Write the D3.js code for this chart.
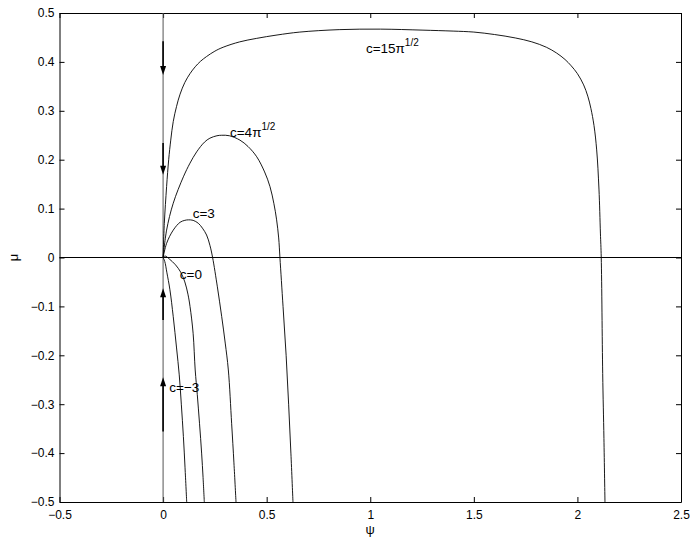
<!DOCTYPE html>
<html>
<head>
<meta charset="utf-8">
<script src="https://cdn.jsdelivr.net/npm/d3@7"></script>
<style>
  body { margin: 0; background: #fff; }
  text { font-family: "Liberation Sans", Arial, Helvetica, sans-serif; }
</style>
</head>
<body>
<div id="chart"></div>
<script>
// curves: [psi, mu]
var curve15 = [[0,0],[0.006,0.07],[0.017,0.145],[0.027,0.2],[0.037,0.24],[0.049,0.278],[0.065,0.309],[0.082,0.334],[0.105,0.358],[0.13,0.376],[0.155,0.39],[0.18,0.401],[0.21,0.411],[0.25,0.422],[0.29,0.43],[0.37,0.441],[0.45,0.448],[0.55,0.455],[0.66,0.461],[0.85,0.466],[1.05,0.467],[1.25,0.465],[1.4,0.463],[1.5,0.461],[1.6,0.456],[1.7,0.449],[1.78,0.441],[1.85,0.43],[1.9,0.418],[1.94,0.405],[1.97,0.392],[2.0,0.376],[2.03,0.353],[2.05,0.33],[2.065,0.305],[2.08,0.27],[2.093,0.22],[2.104,0.14],[2.111,0.05],[2.115,0],[2.122,-0.237],[2.128,-0.37],[2.133,-0.5]];
var curve4 = [[0,0],[0.017,0.056],[0.049,0.111],[0.098,0.165],[0.13,0.193],[0.162,0.216],[0.2,0.236],[0.226,0.244],[0.26,0.249],[0.283,0.25],[0.32,0.249],[0.371,0.24],[0.41,0.227],[0.452,0.206],[0.49,0.175],[0.516,0.145],[0.535,0.11],[0.548,0.077],[0.558,0.04],[0.564,0],[0.579,-0.1],[0.594,-0.2],[0.606,-0.3],[0.617,-0.4],[0.627,-0.5]];
var curve3 = [[0,0],[0.017,0.029],[0.049,0.056],[0.082,0.072],[0.105,0.076],[0.122,0.077],[0.145,0.076],[0.17,0.07],[0.19,0.06],[0.21,0.046],[0.226,0.025],[0.239,0],[0.262,-0.06],[0.283,-0.121],[0.3,-0.175],[0.315,-0.23],[0.331,-0.34],[0.342,-0.42],[0.352,-0.5]];
var curve0 = [[0,0],[0.01,0.003],[0.03,-0.003],[0.06,-0.015],[0.085,-0.03],[0.105,-0.05],[0.12,-0.075],[0.13,-0.1],[0.145,-0.155],[0.155,-0.23],[0.165,-0.28],[0.176,-0.34],[0.186,-0.4],[0.193,-0.45],[0.199,-0.5]];
var curveM3 = [[0,0],[0.008,-0.008],[0.018,-0.03],[0.033,-0.066],[0.049,-0.121],[0.065,-0.185],[0.078,-0.24],[0.088,-0.3],[0.098,-0.366],[0.106,-0.43],[0.114,-0.5]];

// arrows on the psi=0 axis: from mu -> to mu
var arrowFrom = [0.442, 0.234, -0.128, -0.356];
var arrowTo   = [0.373, 0.169, -0.063, -0.245];

// curve labels and where they sit (data coords)
var labelMain = ["c=15π", "c=4π", "c=3", "c=0", "c=\u22123"];
var labelSup  = ["1/2", "1/2", "", "", ""];
var labelPsi  = [0.979, 0.323, 0.143, 0.081, 0.030];
var labelMu   = [0.418, 0.246, 0.080, -0.043, -0.276];

var xTicks = [-0.5, 0, 0.5, 1, 1.5, 2, 2.5];
var yTicks = [-0.5, -0.4, -0.3, -0.2, -0.1, 0, 0.1, 0.2, 0.3, 0.4, 0.5];

var margin = {top: 13, right: 14, bottom: 41, left: 59.5},
  width = 695 - margin.left - margin.right,
  height = 543 - margin.top - margin.bottom;

var svg = d3.select("#chart")
  .append("svg")
    .attr("width", 695)
    .attr("height", 543)
  .append("g")
    .attr("transform", "translate(" + margin.left + "," + margin.top + ")");

var x = d3.scaleLinear().domain([-0.5, 2.5]).range([0, width]);
var y = d3.scaleLinear().domain([-0.5, 0.5]).range([height, 0]);

function fmt(d) { return d3.format("")(d).replace("-", "\u2212"); }

// axes, MATLAB style: ticks inside on all four sides
svg.append("g")
  .attr("transform", "translate(0," + height + ")")
  .call(d3.axisBottom(x).tickValues(xTicks).tickSizeInner(-5).tickSizeOuter(0).tickPadding(8).tickFormat(fmt));
svg.append("g")
  .call(d3.axisTop(x).tickValues(xTicks).tickSizeInner(-5).tickSizeOuter(0).tickFormat(""));
svg.append("g")
  .call(d3.axisLeft(y).tickValues(yTicks).tickSizeInner(-5).tickSizeOuter(0).tickPadding(5).tickFormat(fmt));
svg.append("g")
  .attr("transform", "translate(" + width + ",0)")
  .call(d3.axisRight(y).tickValues(yTicks).tickSizeInner(-5).tickSizeOuter(0).tickFormat(""));

svg.selectAll(".tick text").style("font-size", "12px").style("fill", "#000");
svg.selectAll(".domain, .tick line").style("stroke", "#000");

// zero lines
svg.append("line")
  .attr("x1", x(-0.5)).attr("x2", x(2.5))
  .attr("y1", y(0)).attr("y2", y(0))
  .style("stroke", "#000").style("stroke-width", 1);
svg.append("line")
  .attr("x1", x(0)).attr("x2", x(0))
  .attr("y1", y(-0.5)).attr("y2", y(0.5))
  .style("stroke", "#555").style("stroke-width", 1);

// the curves
var line = d3.line()
  .x(function(d) { return x(d[0]); })
  .y(function(d) { return y(d[1]); })
  .curve(d3.curveCatmullRom.alpha(0.5));

svg.selectAll("myCurves")
  .data([curve15, curve4, curve3, curve0, curveM3])
  .enter()
  .append("path")
    .attr("d", line)
    .style("fill", "none")
    .style("stroke", "#000")
    .style("stroke-width", 0.9);

// arrows
var arrows = arrowFrom.map(function(f, i) { return {from: f, to: arrowTo[i]}; });
svg.selectAll("myShafts")
  .data(arrows).enter()
  .append("line")
    .attr("x1", x(0)).attr("x2", x(0))
    .attr("y1", function(d) { return y(d.from); })
    .attr("y2", function(d) { return y(d.to) + (d.to < d.from ? -6 : 6); })
    .style("stroke", "#000").style("stroke-width", 1.6);
svg.selectAll("myHeads")
  .data(arrows).enter()
  .append("path")
    .attr("d", function(d) {
      var tip = y(d.to), s = d.to < d.from ? -1 : 1;
      return "M" + x(0) + "," + tip + "L" + (x(0) - 3) + "," + (tip + 9 * s) +
             "L" + (x(0) + 3) + "," + (tip + 9 * s) + "Z";
    })
    .style("fill", "#000");

// curve labels
var labels = svg.selectAll("myLabels")
  .data(labelMain).enter()
  .append("text")
    .attr("x", function(d, i) { return x(labelPsi[i]); })
    .attr("y", function(d, i) { return y(labelMu[i]); })
    .style("font-size", "13.5px")
    .style("fill", "#000");
labels.append("tspan").text(function(d) { return d; });
labels.append("tspan")
  .attr("dy", "-7")
  .style("font-size", "10px")
  .text(function(d, i) { return labelSup[i]; });

// axis titles
svg.append("text")
  .attr("x", x(1))
  .attr("y", height + 32)
  .attr("text-anchor", "middle")
  .style("font-size", "13px")
  .text("ψ");
svg.append("text")
  .attr("transform", "translate(" + (-42) + "," + y(0) + ") rotate(-90)")
  .attr("text-anchor", "middle")
  .style("font-size", "13px")
  .text("μ");
</script>
</body>
</html>
